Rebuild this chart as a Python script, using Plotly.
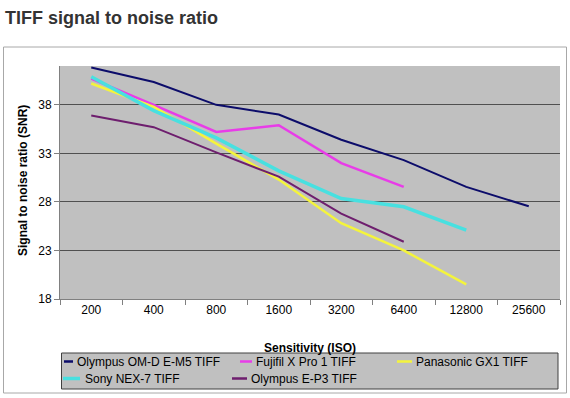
import plotly.graph_objects as go

# ---- data ----
iso = ['200', '400', '800', '1600', '3200', '6400', '12800', '25600']
em5 = [41.85, 40.35, 38.0, 37.0, 34.4, 32.3, 29.55, 27.55]
xpro1 = [40.7, 38.0, 35.2, 35.9, 32.0, 29.55]
gx1 = [40.2, 37.8, 34.0, 30.3, 25.8, 23.0, 19.5]
nex7 = [40.9, 37.4, 34.6, 31.2, 28.35, 27.5, 25.1]
ep3 = [36.9, 35.7, 33.1, 30.6, 26.8, 23.9]
names = ['Olympus OM-D E-M5 TIFF', 'Fujifil X Pro 1 TIFF', 'Panasonic GX1 TIFF',
         'Sony NEX-7 TIFF', 'Olympus E-P3 TIFF']
yticks = [18, 23, 28, 33, 38]

colors = ['#0c0c6a', '#e83ce8', '#f4f43c', '#48e0e0', '#6e1e6e']
widths = [2, 2.5, 2.5, 3.5, 2]
series = [em5, xpro1, gx1, nex7, ep3]

W, H = 570, 398
L, R, T, B = 60, 10, 66, 99
PW, PH = W - L - R, H - T - B


def px(x):
    return (x - L) / PW


def py(y):
    return 1 - (y - T) / PH


fig = go.Figure()
for name, vals, c, w in zip(names, series, colors, widths):
    fig.add_trace(go.Scatter(x=iso[:len(vals)], y=vals, mode='lines', name=name,
                             line=dict(color=c, width=w), showlegend=False))

shapes = []
annotations = []
# chart area border
shapes.append(dict(type='rect', xref='paper', yref='paper', x0=px(3.5), x1=px(566.5),
                   y0=py(393), y1=py(47), line=dict(color='#a8a8a8', width=1), layer='below'))
# legend box
shapes.append(dict(type='rect', xref='paper', yref='paper', x0=px(61.5), x1=px(558),
                   y0=py(389), y1=py(353), fillcolor='#c0c0c0', line=dict(color='#404040', width=1)))
leg = [  # (line x0, x1, text x, row y)
    (64, 73, 75, 361.5),
    (240, 252, 254, 361.5),
    (397, 412, 414, 361.5),
    (63, 80, 82.5, 378.5),
    (232, 247, 248.5, 378.5),
]
for (x0, x1, tx, yy), name, c, w in zip(leg, names, colors, widths):
    shapes.append(dict(type='line', xref='paper', yref='paper', x0=px(x0), x1=px(x1),
                       y0=py(yy), y1=py(yy), line=dict(color=c, width=max(w, 2.5))))
    annotations.append(dict(xref='paper', yref='paper', x=px(tx), y=py(yy), text=name,
                            showarrow=False, xanchor='left', yanchor='middle',
                            font=dict(family='Arial', size=12, color='#000000')))

annotations.append(dict(xref='paper', yref='paper', x=px(3), y=py(18), text='TIFF signal to noise ratio',
                        showarrow=False, xanchor='left', yanchor='middle',
                        font=dict(family='Arial', size=18, color='#333333', weight='bold')))
annotations.append(dict(xref='paper', yref='paper', x=0.5, y=py(347.5), text='Sensitivity (ISO)',
                        showarrow=False, xanchor='center', yanchor='middle',
                        font=dict(family='Arial', size=12, color='#000000', weight='bold')))
annotations.append(dict(xref='paper', yref='paper', x=px(23), y=py(181), text='Signal to noise ratio (SNR)',
                        showarrow=False, xanchor='center', yanchor='middle', textangle=-90,
                        font=dict(family='Arial', size=12, color='#000000', weight='bold')))

fig.update_layout(
    width=W, height=H,
    margin=dict(l=L, r=R, t=T, b=B),
    paper_bgcolor='white', plot_bgcolor='#c0c0c0',
    shapes=shapes, annotations=annotations,
    showlegend=False,
    font=dict(family='Arial', size=12, color='#000000'),
)
fig.update_xaxes(type='category', categoryorder='array', categoryarray=iso,
                 range=[-0.5, len(iso) - 0.5], tickson='boundaries',
                 ticks='outside', ticklen=5, tickcolor='#808080',
                 showline=True, linecolor='#808080', linewidth=1, showgrid=False,
                 tickfont=dict(family='Arial', size=12, color='#000000'), fixedrange=True)
fig.update_yaxes(range=[18, 42], tickvals=yticks, ticks='outside', ticklen=5, tickcolor='#808080',
                 showline=True, linecolor='#808080', linewidth=1,
                 showgrid=True, gridcolor='#505050', gridwidth=1, zeroline=False,
                 tickfont=dict(family='Arial', size=12, color='#000000'), fixedrange=True)

fig.write_html('out.html', config={'displayModeBar': False},
               post_script="document.body.style.margin='0';document.body.style.overflow='hidden';")
